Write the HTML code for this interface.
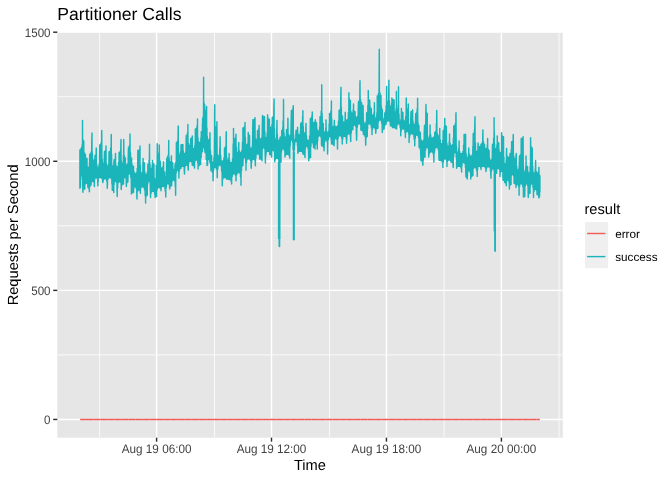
<!DOCTYPE html>
<html lang="en"><head><meta charset="utf-8"><title>Partitioner Calls</title>
<style>
html,body{margin:0;padding:0;background:#fff;}
body{width:672px;height:480px;overflow:hidden;}
svg{display:block;will-change:transform;transform:translateZ(0);}
text{font-family:"Liberation Sans",Arial,Helvetica,sans-serif;text-rendering:geometricPrecision;}
.t{font-size:17.6px;fill:#000;}
.at{font-size:14.67px;fill:#000;}
.ax{font-size:11.73px;fill:#424242;}
.lg{font-size:11.73px;fill:#000;}
</style></head><body>
<svg width="672" height="480" viewBox="0 0 672 480">
<rect width="672" height="480" fill="#ffffff"/>
<rect x="57.3" y="32.2" width="505.50" height="405.50" fill="#e6e6e6"/>
<clipPath id="pc"><rect x="57.3" y="32.2" width="505.50" height="405.50"/></clipPath>
<g clip-path="url(#pc)">
<g stroke="#ffffff" stroke-width="0.8">
<line x1="57.3" x2="562.8" y1="354.91" y2="354.91"/>
<line x1="57.3" x2="562.8" y1="225.82" y2="225.82"/>
<line x1="57.3" x2="562.8" y1="96.74" y2="96.74"/>
<line x1="99.65" x2="99.65" y1="32.2" y2="437.7"/>
<line x1="214.5" x2="214.5" y1="32.2" y2="437.7"/>
<line x1="329.55" x2="329.55" y1="32.2" y2="437.7"/>
<line x1="444.1" x2="444.1" y1="32.2" y2="437.7"/>
<line x1="559.0" x2="559.0" y1="32.2" y2="437.7"/>
</g>
<g stroke="#ffffff" stroke-width="1.42">
<line x1="57.3" x2="562.8" y1="419.45" y2="419.45"/>
<line x1="57.3" x2="562.8" y1="290.37" y2="290.37"/>
<line x1="57.3" x2="562.8" y1="161.28" y2="161.28"/>
<line x1="57.3" x2="562.8" y1="32.20" y2="32.20"/>
<line x1="156.6" x2="156.6" y1="32.2" y2="437.7"/>
<line x1="271.5" x2="271.5" y1="32.2" y2="437.7"/>
<line x1="386.45" x2="386.45" y1="32.2" y2="437.7"/>
<line x1="501.4" x2="501.4" y1="32.2" y2="437.7"/>
</g>
<path d="M79.90 149.95 L79.90 188.15 L79.90 149.95 L80.22 187.09 L80.50 187.05 L80.54 149.45 L80.60 149.20 L80.86 176.25 L81.18 149.05 L81.25 175.65 L81.50 148.11 L81.60 147.45 L81.82 175.79 L82.14 144.74 L82.46 179.77 L82.50 120.45 L82.78 187.50 L82.90 192.30 L83.10 139.96 L83.42 189.71 L83.74 141.05 L83.75 141.05 L84.06 188.99 L84.38 152.69 L84.70 188.95 L84.75 188.95 L85.02 154.18 L85.34 183.76 L85.40 154.20 L85.66 183.24 L85.98 157.89 L86.25 183.15 L86.30 158.35 L86.62 183.16 L86.94 158.45 L87.00 158.45 L87.26 183.63 L87.58 166.91 L87.90 187.55 L87.90 187.55 L88.22 167.45 L88.25 167.45 L88.54 187.64 L88.86 167.22 L89.18 189.63 L89.40 191.80 L89.50 161.62 L89.75 154.20 L89.82 186.84 L90.14 154.19 L90.46 185.20 L90.78 153.57 L91.00 185.15 L91.10 152.07 L91.42 182.24 L91.74 141.97 L92.00 132.95 L92.06 181.28 L92.38 153.06 L92.60 181.25 L92.70 158.83 L93.02 181.26 L93.34 160.45 L93.50 160.45 L93.66 181.73 L93.98 160.42 L94.30 185.27 L94.40 186.45 L94.62 159.11 L94.94 178.90 L95.00 155.45 L95.26 177.78 L95.58 155.21 L95.90 177.50 L96.00 177.50 L96.22 148.73 L96.25 147.95 L96.54 177.53 L96.86 165.01 L97.18 178.47 L97.50 167.42 L97.82 184.34 L97.90 185.80 L97.90 167.45 L98.14 181.94 L98.46 167.35 L98.78 177.95 L99.10 164.23 L99.42 177.50 L99.74 145.39 L99.75 177.50 L99.75 144.85 L100.06 177.50 L100.38 144.77 L100.70 177.52 L101.02 142.98 L101.34 177.73 L101.66 133.14 L101.75 130.45 L101.98 178.57 L102.30 159.22 L102.62 180.82 L102.90 182.55 L102.94 163.42 L103.25 163.45 L103.26 180.64 L103.58 163.42 L103.90 179.13 L104.22 159.62 L104.50 151.45 L104.54 178.78 L104.86 151.44 L105.18 178.75 L105.40 178.75 L105.50 150.58 L105.82 178.76 L106.00 146.05 L106.14 178.90 L106.46 163.64 L106.78 181.30 L107.10 166.20 L107.25 188.30 L107.25 166.20 L107.42 185.37 L107.74 166.16 L108.06 179.35 L108.38 164.62 L108.70 177.72 L109.02 154.32 L109.10 151.70 L109.34 177.50 L109.66 151.66 L109.75 177.50 L109.98 151.39 L110.30 177.51 L110.62 148.08 L110.94 177.95 L111.25 134.45 L111.26 178.81 L111.58 154.57 L111.90 183.92 L112.22 165.61 L112.25 190.15 L112.54 166.17 L112.86 190.19 L112.90 166.20 L113.18 190.43 L113.50 165.92 L113.75 192.55 L113.82 164.28 L114.10 159.85 L114.14 184.61 L114.46 159.84 L114.78 181.39 L115.10 158.46 L115.40 181.25 L115.42 155.02 L115.50 153.55 L115.74 181.26 L116.06 165.23 L116.38 182.12 L116.70 166.84 L117.00 166.85 L117.02 189.61 L117.25 196.45 L117.34 166.85 L117.66 187.70 L117.98 166.38 L118.30 182.62 L118.62 162.34 L118.94 181.78 L119.10 152.35 L119.26 181.75 L119.50 181.75 L119.58 152.32 L119.90 181.76 L120.22 151.15 L120.54 182.50 L120.86 143.21 L121.00 139.45 L121.18 188.24 L121.25 189.55 L121.50 161.04 L121.82 185.45 L122.14 163.45 L122.25 163.45 L122.46 184.12 L122.78 163.23 L123.10 183.95 L123.42 155.60 L123.50 183.95 L123.74 140.16 L123.75 139.45 L124.06 177.94 L124.38 155.83 L124.70 177.50 L124.75 177.50 L125.02 157.93 L125.34 177.59 L125.40 157.95 L125.66 178.11 L125.98 164.59 L126.30 184.26 L126.40 186.45 L126.60 164.95 L126.62 184.21 L126.94 164.94 L127.26 182.15 L127.58 164.06 L127.90 182.05 L127.90 182.05 L128.22 156.36 L128.50 147.35 L128.54 174.43 L128.86 147.33 L129.18 173.75 L129.40 173.75 L129.50 145.19 L129.82 173.77 L130.00 133.95 L130.14 173.98 L130.46 152.73 L130.78 177.55 L131.10 157.82 L131.40 193.95 L131.42 157.95 L131.60 157.95 L131.74 193.18 L132.06 164.01 L132.38 192.63 L132.70 166.28 L133.02 192.55 L133.34 166.45 L133.50 192.55 L133.50 166.45 L133.66 189.88 L133.98 171.56 L134.30 186.81 L134.62 173.32 L134.75 186.75 L134.94 173.44 L135.26 186.77 L135.40 173.45 L135.58 186.89 L135.90 173.43 L136.22 188.55 L136.54 172.78 L136.86 195.89 L137.00 198.95 L137.18 168.46 L137.50 191.44 L137.82 153.58 L137.90 150.45 L138.14 190.01 L138.46 150.44 L138.50 190.00 L138.78 150.36 L139.10 190.02 L139.42 149.42 L139.74 190.48 L140.00 146.05 L140.06 191.36 L140.38 165.36 L140.40 193.30 L140.70 171.39 L141.02 187.79 L141.34 173.44 L141.60 173.45 L141.66 186.79 L141.98 173.42 L142.25 186.75 L142.30 172.96 L142.62 186.75 L142.94 164.42 L143.10 158.45 L143.26 186.82 L143.58 162.38 L143.90 187.42 L144.22 162.95 L144.40 162.95 L144.54 189.69 L144.86 171.95 L145.18 195.67 L145.50 174.39 L145.60 203.05 L145.82 174.45 L146.00 174.45 L146.14 196.48 L146.46 174.43 L146.78 195.18 L147.10 173.57 L147.25 195.15 L147.42 171.69 L147.74 184.10 L147.90 164.20 L148.06 181.92 L148.38 164.11 L148.70 181.25 L148.90 181.25 L149.02 160.18 L149.34 181.29 L149.50 144.20 L149.66 181.69 L149.98 164.17 L150.30 188.05 L150.60 197.55 L150.62 168.40 L150.94 193.84 L151.00 168.45 L151.26 192.17 L151.58 168.34 L151.90 191.29 L152.22 165.29 L152.50 191.25 L152.50 160.45 L152.54 191.25 L152.86 163.22 L153.18 191.27 L153.50 164.19 L153.82 191.55 L153.90 164.20 L154.14 192.04 L154.46 178.24 L154.78 194.74 L155.10 179.45 L155.10 197.55 L155.20 179.45 L155.42 196.82 L155.74 179.06 L156.06 196.46 L156.38 166.47 L156.40 165.45 L156.60 196.45 L156.70 165.25 L157.02 190.41 L157.25 143.75 L157.34 188.47 L157.66 153.03 L157.98 187.53 L158.30 154.15 L158.30 154.15 L158.50 187.50 L158.62 154.10 L158.94 187.50 L159.26 146.58 L159.30 145.05 L159.58 187.58 L159.90 160.99 L160.22 188.11 L160.30 161.25 L160.54 188.82 L160.86 167.40 L161.00 190.80 L161.18 168.12 L161.50 187.40 L161.80 168.25 L161.82 186.61 L162.14 168.25 L162.46 186.26 L162.78 167.70 L162.90 186.25 L163.10 166.29 L163.42 186.26 L163.50 161.70 L163.74 186.29 L164.06 171.43 L164.38 186.82 L164.70 172.15 L164.75 172.15 L165.02 189.10 L165.30 177.45 L165.34 191.62 L165.66 177.41 L165.75 197.05 L165.98 176.72 L166.30 187.27 L166.62 163.10 L166.70 158.75 L166.94 184.10 L167.26 158.34 L167.50 156.70 L167.58 183.75 L167.90 156.58 L167.90 183.75 L168.22 155.07 L168.54 183.79 L168.70 140.45 L168.86 184.02 L169.18 157.91 L169.50 186.46 L169.75 188.95 L169.82 161.61 L170.14 186.89 L170.20 161.65 L170.46 186.16 L170.78 161.43 L171.10 185.81 L171.40 155.85 L171.42 185.80 L171.60 185.80 L171.74 161.14 L172.06 181.67 L172.38 162.94 L172.70 180.12 L172.70 162.95 L173.02 180.01 L173.34 169.24 L173.50 180.00 L173.66 169.45 L173.90 169.45 L173.98 180.02 L174.30 169.42 L174.62 180.90 L174.94 167.36 L175.20 163.75 L175.26 186.84 L175.58 163.63 L175.60 195.15 L175.90 161.87 L176.22 173.02 L176.40 142.45 L176.54 170.57 L176.86 142.42 L177.18 170.00 L177.25 170.00 L177.50 140.87 L177.82 170.07 L178.14 130.00 L178.25 126.05 L178.46 171.99 L178.78 152.54 L178.90 178.05 L179.10 154.78 L179.42 171.01 L179.50 154.95 L179.74 169.28 L180.06 154.83 L180.38 168.34 L180.70 151.25 L181.00 168.30 L181.00 144.85 L181.02 168.20 L181.34 144.85 L181.66 166.55 L181.98 144.83 L182.30 166.26 L182.62 144.65 L182.90 166.25 L182.90 144.45 L182.94 166.25 L183.26 150.76 L183.58 166.41 L183.90 153.59 L184.22 169.49 L184.50 173.95 L184.50 153.70 L184.54 173.21 L184.86 153.69 L185.18 166.54 L185.50 152.23 L185.82 165.10 L186.14 140.07 L186.25 135.45 L186.46 165.00 L186.60 165.00 L186.78 135.38 L187.10 165.02 L187.42 133.11 L187.74 165.98 L187.90 124.45 L188.06 167.97 L188.25 170.15 L188.38 143.34 L188.70 163.59 L189.02 145.45 L189.10 145.45 L189.34 161.36 L189.66 145.40 L189.98 161.25 L190.00 161.25 L190.30 143.78 L190.62 161.26 L190.75 138.45 L190.94 161.33 L191.26 138.43 L191.58 162.04 L191.90 137.72 L192.22 164.92 L192.25 165.15 L192.25 136.05 L192.54 165.15 L192.86 148.08 L193.18 165.20 L193.50 148.70 L193.50 148.70 L193.82 165.72 L194.14 148.55 L194.46 167.83 L194.50 168.05 L194.78 145.36 L195.10 161.22 L195.40 128.95 L195.42 160.28 L195.74 128.95 L196.06 160.00 L196.25 160.00 L196.38 128.63 L196.70 160.02 L197.02 125.84 L197.34 160.83 L197.50 118.95 L197.66 162.64 L197.98 137.73 L198.10 168.95 L198.30 141.41 L198.62 165.81 L198.94 142.45 L199.10 142.45 L199.26 165.55 L199.30 165.55 L199.58 142.44 L199.90 164.61 L200.22 141.88 L200.54 164.55 L200.60 164.55 L200.86 138.08 L201.18 157.55 L201.20 157.55 L201.25 131.70 L201.50 153.39 L201.82 131.43 L202.14 151.57 L202.46 123.60 L202.50 151.55 L202.60 118.45 L202.78 148.69 L203.10 116.62 L203.42 147.27 L203.60 77.15 L203.74 147.25 L203.80 147.25 L204.06 102.74 L204.38 147.45 L204.60 104.45 L204.70 148.70 L205.00 152.55 L205.02 110.96 L205.34 152.57 L205.40 111.20 L205.66 153.03 L205.98 111.02 L206.20 159.55 L206.30 109.90 L206.60 106.45 L206.62 159.88 L206.94 128.09 L207.00 165.55 L207.26 136.59 L207.58 165.05 L207.60 165.05 L207.90 139.92 L208.22 159.62 L208.25 139.95 L208.54 159.55 L208.60 159.55 L208.86 139.89 L209.18 155.75 L209.20 155.75 L209.50 138.35 L209.82 159.69 L209.90 162.55 L210.00 132.70 L210.14 162.56 L210.46 150.50 L210.78 165.57 L211.00 170.80 L211.10 155.33 L211.42 170.81 L211.60 155.45 L211.74 170.89 L212.06 161.47 L212.38 172.31 L212.70 162.45 L212.90 162.45 L213.02 179.20 L213.10 180.80 L213.34 162.36 L213.66 170.26 L213.98 157.32 L214.30 167.65 L214.62 120.81 L214.75 104.65 L214.94 167.50 L215.00 167.50 L215.26 126.53 L215.58 167.52 L215.75 127.45 L215.90 167.66 L216.22 127.35 L216.54 169.34 L216.86 122.55 L216.90 121.70 L217.18 176.30 L217.25 177.65 L217.50 154.68 L217.82 168.95 L218.10 156.20 L218.14 166.75 L218.46 156.19 L218.78 165.18 L219.10 155.34 L219.42 165.00 L219.74 148.22 L219.75 165.00 L220.06 138.39 L220.10 136.70 L220.38 165.04 L220.70 155.58 L221.02 165.99 L221.34 160.69 L221.66 171.19 L221.98 161.20 L222.25 185.80 L222.25 161.20 L222.30 185.00 L222.62 161.20 L222.94 179.10 L223.26 160.84 L223.58 177.65 L223.90 157.92 L224.22 177.50 L224.50 177.50 L224.50 147.95 L224.54 177.50 L224.86 147.94 L225.18 177.51 L225.50 146.64 L225.82 177.68 L226.14 135.82 L226.25 131.70 L226.46 178.56 L226.60 178.95 L226.78 157.59 L227.10 178.95 L227.42 159.95 L227.50 159.95 L227.74 178.97 L228.06 159.89 L228.38 179.08 L228.70 158.17 L229.02 179.47 L229.10 179.55 L229.10 153.45 L229.34 179.55 L229.66 160.58 L229.98 179.59 L230.30 162.35 L230.62 180.02 L230.94 162.45 L231.00 162.45 L231.26 181.83 L231.58 162.40 L231.60 183.95 L231.90 162.11 L232.22 176.58 L232.54 158.61 L232.86 174.18 L233.18 144.09 L233.50 173.77 L233.50 128.45 L233.82 173.75 L234.10 173.75 L234.14 138.29 L234.46 173.75 L234.75 138.70 L234.78 173.82 L235.10 138.69 L235.42 175.12 L235.74 137.12 L236.00 180.80 L236.00 134.20 L236.06 180.02 L236.38 147.55 L236.70 174.71 L237.02 152.34 L237.34 172.91 L237.50 152.45 L237.66 172.63 L237.98 152.32 L238.30 172.50 L238.62 146.35 L238.75 172.50 L238.75 142.45 L238.94 172.50 L239.26 150.56 L239.58 172.64 L239.90 152.40 L240.22 174.36 L240.40 152.45 L240.54 177.02 L240.86 152.44 L241.00 185.15 L241.18 152.32 L241.50 170.70 L241.82 150.53 L242.14 166.11 L242.46 142.20 L242.78 165.80 L242.90 165.80 L242.90 127.95 L243.10 161.15 L243.42 127.94 L243.74 157.54 L244.06 127.57 L244.10 157.50 L244.38 126.81 L244.70 157.57 L245.00 122.45 L245.02 157.98 L245.34 137.27 L245.66 162.71 L245.98 144.63 L246.00 170.15 L246.30 144.94 L246.60 144.95 L246.62 161.91 L246.94 144.94 L247.26 159.24 L247.58 143.75 L247.90 158.77 L248.22 133.44 L248.25 132.45 L248.50 158.75 L248.54 134.54 L248.86 158.75 L249.18 135.44 L249.50 158.85 L249.50 135.45 L249.82 159.10 L250.14 147.62 L250.46 160.83 L250.78 148.70 L251.00 148.70 L251.10 166.17 L251.25 168.30 L251.42 148.67 L251.74 162.31 L252.06 146.61 L252.38 159.74 L252.70 131.21 L252.90 119.85 L253.02 159.36 L253.34 119.85 L253.50 159.35 L253.66 119.83 L253.98 159.36 L254.30 119.50 L254.62 159.95 L254.94 117.96 L255.00 117.70 L255.26 163.92 L255.40 165.80 L255.58 138.61 L255.90 158.16 L256.22 139.95 L256.25 139.95 L256.54 154.53 L256.86 139.57 L257.18 153.79 L257.50 130.45 L257.50 130.45 L257.82 153.75 L257.90 153.75 L258.14 130.37 L258.46 153.77 L258.78 128.62 L259.10 154.49 L259.10 125.45 L259.42 155.90 L259.74 138.30 L259.75 158.95 L260.06 139.31 L260.38 158.96 L260.60 139.45 L260.70 158.99 L261.02 139.42 L261.34 159.34 L261.66 137.71 L261.98 160.73 L262.00 160.80 L262.30 124.90 L262.50 115.45 L262.62 148.71 L262.94 116.29 L263.26 147.50 L263.50 147.50 L263.58 116.66 L263.90 147.51 L264.22 116.70 L264.50 116.70 L264.54 148.53 L264.86 131.41 L265.18 156.44 L265.40 163.05 L265.50 137.30 L265.82 156.41 L266.00 137.45 L266.14 153.68 L266.46 137.37 L266.78 151.57 L267.10 133.26 L267.42 151.26 L267.60 114.85 L267.74 151.25 L267.90 151.25 L268.06 118.05 L268.38 151.26 L268.70 119.14 L269.02 151.59 L269.34 119.20 L269.40 119.20 L269.66 153.89 L269.75 154.55 L269.98 126.79 L270.30 154.56 L270.62 127.45 L270.75 127.45 L270.94 154.89 L271.26 127.37 L271.58 156.93 L271.60 157.05 L271.90 124.42 L272.22 150.64 L272.25 117.45 L272.54 150.08 L272.86 117.32 L273.10 150.00 L273.18 116.61 L273.50 150.02 L273.82 108.61 L274.10 98.95 L274.14 151.48 L274.46 128.82 L274.75 161.80 L274.78 137.42 L275.10 160.00 L275.42 139.45 L275.50 139.45 L275.74 158.53 L276.06 139.22 L276.38 158.18 L276.70 132.49 L277.00 120.45 L277.02 158.15 L277.25 158.15 L277.34 134.16 L277.66 158.16 L277.98 140.28 L278.30 158.60 L278.50 140.45 L278.60 159.55 L278.62 140.45 L278.94 173.43 L279.10 238.30 L279.26 140.31 L279.45 246.45 L279.58 139.77 L279.90 158.75 L279.90 158.75 L280.00 137.45 L280.22 158.76 L280.54 137.41 L280.86 160.54 L281.00 162.05 L281.18 136.26 L281.50 152.12 L281.75 130.45 L281.82 149.80 L282.14 130.41 L282.46 148.77 L282.78 127.60 L282.90 148.75 L283.10 120.81 L283.42 148.77 L283.50 99.45 L283.74 148.88 L284.06 132.81 L284.38 150.47 L284.70 137.42 L285.00 157.05 L285.00 137.45 L285.02 156.94 L285.34 137.44 L285.66 154.92 L285.98 136.33 L286.30 154.41 L286.50 129.85 L286.62 154.36 L286.94 129.79 L287.25 154.35 L287.26 129.10 L287.58 154.35 L287.90 118.20 L287.90 118.20 L288.22 154.41 L288.54 134.39 L288.86 154.90 L289.18 136.19 L289.50 156.81 L289.50 136.20 L289.75 158.30 L289.82 136.19 L290.14 146.31 L290.46 135.01 L290.78 140.47 L291.10 124.32 L291.40 110.45 L291.42 140.00 L291.60 140.00 L291.74 110.45 L292.06 140.05 L292.38 110.18 L292.70 142.37 L293.02 107.84 L293.10 149.55 L293.25 105.70 L293.34 150.57 L293.66 134.64 L293.75 239.55 L293.98 139.78 L294.30 149.57 L294.40 149.55 L294.50 140.45 L294.62 144.98 L294.94 140.41 L295.26 141.34 L295.58 138.17 L295.75 141.25 L295.90 133.12 L296.00 130.45 L296.22 141.26 L296.54 130.43 L296.86 141.87 L297.18 129.66 L297.50 146.02 L297.60 127.35 L297.82 151.41 L297.90 153.30 L298.14 133.93 L298.46 151.90 L298.78 134.94 L299.10 151.36 L299.10 134.95 L299.42 151.28 L299.74 134.78 L300.06 151.25 L300.38 131.20 L300.40 151.25 L300.70 124.72 L300.75 123.20 L301.02 151.26 L301.34 123.16 L301.66 151.37 L301.98 122.19 L302.30 152.04 L302.62 116.53 L302.90 153.95 L302.90 110.70 L302.94 153.95 L303.26 126.55 L303.58 153.97 L303.90 132.89 L304.22 154.40 L304.40 133.05 L304.54 155.13 L304.86 133.01 L305.00 157.55 L305.18 132.67 L305.50 148.34 L305.82 127.44 L306.00 123.45 L306.14 146.29 L306.46 135.57 L306.60 146.25 L306.78 138.87 L307.10 146.27 L307.42 140.42 L307.74 147.09 L307.90 140.45 L308.06 148.80 L308.38 140.44 L308.70 159.34 L308.75 160.80 L309.02 139.86 L309.34 158.13 L309.66 135.92 L309.98 157.57 L310.30 122.14 L310.40 118.45 L310.60 157.55 L310.62 118.45 L310.94 146.80 L311.26 118.24 L311.58 142.57 L311.90 115.92 L312.00 142.50 L312.22 112.41 L312.25 111.95 L312.54 142.55 L312.86 121.99 L313.18 144.22 L313.50 123.05 L313.50 147.55 L313.75 123.05 L313.82 147.55 L314.14 123.05 L314.46 147.74 L314.78 122.67 L315.00 148.95 L315.10 121.75 L315.40 119.85 L315.42 145.07 L315.74 122.26 L316.06 143.79 L316.38 122.95 L316.60 143.75 L316.60 122.95 L316.70 143.75 L317.02 129.00 L317.25 148.95 L317.34 130.63 L317.66 141.03 L317.98 131.20 L318.25 131.20 L318.30 136.44 L318.62 131.19 L318.94 135.68 L319.26 129.98 L319.50 135.65 L319.58 126.98 L319.90 135.66 L320.00 116.70 L320.22 135.73 L320.54 116.54 L320.86 137.09 L321.18 111.29 L321.50 143.80 L321.60 145.80 L321.75 84.85 L321.82 145.80 L322.14 113.49 L322.46 145.84 L322.78 123.24 L323.10 146.30 L323.25 123.45 L323.42 147.00 L323.74 131.49 L324.06 150.45 L324.10 150.80 L324.38 132.45 L324.50 132.45 L324.70 141.96 L325.02 132.34 L325.34 140.09 L325.66 128.49 L325.98 140.00 L326.00 140.00 L326.00 119.85 L326.30 140.01 L326.62 131.31 L326.94 141.27 L327.26 132.45 L327.50 132.45 L327.58 153.18 L327.60 153.95 L327.90 132.44 L328.22 139.66 L328.54 131.45 L328.86 136.88 L329.18 123.78 L329.50 136.75 L329.50 136.75 L329.50 113.45 L329.82 136.75 L330.14 113.36 L330.46 136.96 L330.78 111.35 L331.10 138.87 L331.40 101.05 L331.42 141.56 L331.60 143.95 L331.74 118.74 L332.06 143.95 L332.38 126.63 L332.70 144.00 L332.90 126.85 L333.02 144.10 L333.34 126.82 L333.66 144.72 L333.98 125.39 L334.10 145.80 L334.30 122.16 L334.40 120.45 L334.62 139.54 L334.94 125.85 L335.26 138.18 L335.58 126.83 L335.75 138.15 L335.90 126.85 L336.00 126.85 L336.22 138.18 L336.54 126.84 L336.86 139.54 L337.18 126.64 L337.50 148.95 L337.50 148.95 L337.82 125.36 L338.14 138.60 L338.46 121.06 L338.78 135.95 L339.10 110.45 L339.10 110.45 L339.42 135.65 L339.74 110.28 L339.75 135.65 L340.06 109.38 L340.38 135.67 L340.70 99.79 L341.00 87.35 L341.02 136.04 L341.34 107.02 L341.66 138.12 L341.98 115.81 L342.25 143.95 L342.30 116.05 L342.50 116.05 L342.62 139.68 L342.94 121.54 L343.26 136.78 L343.58 122.45 L343.75 122.45 L343.90 136.27 L344.22 122.40 L344.50 136.25 L344.54 121.89 L344.86 136.25 L345.18 114.30 L345.25 112.35 L345.50 136.50 L345.82 119.51 L346.14 138.57 L346.46 120.45 L346.60 143.30 L346.75 120.45 L346.78 140.19 L347.10 120.44 L347.42 134.85 L347.74 119.60 L348.06 133.81 L348.38 112.47 L348.70 133.75 L348.75 133.75 L348.90 92.70 L349.02 133.75 L349.34 98.83 L349.66 133.97 L349.98 100.42 L350.30 136.20 L350.40 100.45 L350.62 139.44 L350.75 141.45 L350.94 111.36 L351.26 133.07 L351.58 113.04 L351.90 129.93 L351.90 113.05 L352.22 129.62 L352.54 112.90 L352.86 129.55 L352.90 129.55 L353.18 109.72 L353.50 125.55 L353.50 103.95 L353.82 125.10 L354.14 111.07 L354.46 125.00 L354.50 125.00 L354.78 111.70 L355.00 111.70 L355.10 125.05 L355.42 115.99 L355.74 126.42 L356.06 117.41 L356.38 134.21 L356.60 140.15 L356.60 117.45 L356.70 137.40 L357.02 117.43 L357.34 127.13 L357.66 116.31 L357.98 124.19 L358.30 107.90 L358.50 101.70 L358.62 123.76 L358.94 101.62 L359.10 123.75 L359.26 100.71 L359.58 123.76 L359.90 86.30 L360.00 80.70 L360.22 124.34 L360.54 99.44 L360.86 128.29 L361.00 130.15 L361.18 102.33 L361.50 130.15 L361.50 102.35 L361.82 130.18 L362.14 105.14 L362.46 130.54 L362.78 105.45 L363.10 132.16 L363.10 105.45 L363.42 133.95 L363.50 134.55 L363.74 121.70 L364.06 134.57 L364.38 123.68 L364.70 135.18 L364.75 123.70 L365.02 136.36 L365.34 123.64 L365.66 143.37 L365.75 145.15 L365.98 121.99 L366.30 137.56 L366.60 112.95 L366.62 136.63 L366.94 112.93 L367.25 136.45 L367.26 112.59 L367.58 129.00 L367.90 105.25 L368.22 124.20 L368.25 90.45 L368.54 123.81 L368.86 99.50 L369.10 123.75 L369.18 100.32 L369.50 123.75 L369.75 100.45 L369.82 123.77 L370.14 106.39 L370.46 124.11 L370.78 108.41 L371.10 125.78 L371.25 108.45 L371.42 127.71 L371.74 114.02 L372.00 134.55 L372.06 115.11 L372.38 129.84 L372.70 115.45 L372.90 115.45 L373.02 127.64 L373.34 115.40 L373.66 127.50 L373.75 127.50 L373.98 112.54 L374.30 127.52 L374.40 102.70 L374.62 127.64 L374.94 117.09 L375.26 129.14 L375.58 118.70 L375.75 133.30 L375.75 118.70 L375.90 131.91 L376.22 118.58 L376.54 128.94 L376.86 112.86 L377.18 128.34 L377.25 96.05 L377.50 128.30 L377.82 95.97 L377.90 128.30 L378.14 95.49 L378.46 122.06 L378.50 93.45 L378.78 120.72 L379.10 81.31 L379.30 49.15 L379.42 120.03 L379.74 92.23 L380.00 120.00 L380.06 93.45 L380.10 93.45 L380.38 120.00 L380.70 95.44 L381.00 95.45 L381.02 120.36 L381.34 105.90 L381.66 123.19 L381.98 109.19 L382.25 132.55 L382.25 109.20 L382.30 132.13 L382.62 117.34 L382.94 129.39 L383.26 119.44 L383.50 119.45 L383.58 128.96 L383.90 119.41 L384.10 128.95 L384.22 118.91 L384.54 125.89 L384.75 112.95 L384.86 124.99 L385.18 112.91 L385.50 124.56 L385.82 110.69 L386.00 124.55 L386.14 105.63 L386.46 122.21 L386.60 86.45 L386.78 121.37 L387.10 101.17 L387.42 120.74 L387.60 101.85 L387.74 120.67 L388.06 101.65 L388.38 120.65 L388.50 120.65 L388.70 91.64 L388.90 80.20 L389.02 120.67 L389.34 100.75 L389.66 121.21 L389.98 106.12 L390.30 124.69 L390.40 125.80 L390.40 106.20 L390.62 125.80 L390.94 106.12 L391.26 125.83 L391.58 103.40 L391.90 126.19 L391.90 97.95 L392.22 126.72 L392.50 127.55 L392.54 99.45 L392.86 127.55 L393.18 99.81 L393.50 127.56 L393.82 99.85 L394.10 99.85 L394.14 127.61 L394.46 111.14 L394.78 127.80 L395.10 113.70 L395.25 113.70 L395.40 128.30 L395.42 113.70 L395.74 128.30 L396.06 109.10 L396.38 128.56 L396.40 91.45 L396.60 128.95 L396.70 105.54 L397.02 125.44 L397.34 109.95 L397.50 109.95 L397.66 123.88 L397.98 109.09 L398.30 123.75 L398.50 123.75 L398.50 86.70 L398.62 123.75 L398.94 113.97 L399.26 123.84 L399.58 121.09 L399.90 125.17 L400.00 121.20 L400.22 127.35 L400.54 121.02 L400.75 135.80 L400.86 119.78 L401.18 131.33 L401.40 108.45 L401.50 129.77 L401.82 111.46 L402.14 128.82 L402.46 112.33 L402.78 128.75 L402.90 128.75 L402.90 112.35 L403.10 128.75 L403.42 120.21 L403.74 128.82 L404.06 121.20 L404.25 121.20 L404.38 129.58 L404.70 121.17 L405.02 132.94 L405.34 119.69 L405.40 137.55 L405.66 116.38 L405.98 132.41 L406.25 97.95 L406.30 131.56 L406.62 108.45 L406.94 131.25 L407.25 131.25 L407.25 109.95 L407.26 131.25 L407.58 109.91 L407.90 131.35 L408.22 104.72 L408.25 103.95 L408.54 133.48 L408.86 123.92 L409.10 142.55 L409.18 124.90 L409.50 137.77 L409.50 124.95 L409.82 135.66 L410.14 124.66 L410.46 134.01 L410.78 118.46 L411.00 111.70 L411.10 133.76 L411.42 111.70 L411.60 133.75 L411.74 111.64 L412.06 133.75 L412.38 110.75 L412.60 109.85 L412.70 133.86 L413.02 121.12 L413.34 134.58 L413.66 124.39 L413.98 137.16 L414.10 124.45 L414.30 139.77 L414.62 124.39 L414.75 145.80 L414.94 123.92 L415.26 138.40 L415.58 117.71 L415.75 113.45 L415.90 135.43 L416.22 113.42 L416.54 135.01 L416.86 111.93 L417.00 135.00 L417.18 108.71 L417.50 135.02 L417.60 98.35 L417.82 135.18 L418.14 123.03 L418.46 137.44 L418.78 125.45 L418.90 125.45 L419.10 147.55 L419.10 147.55 L419.42 131.42 L419.74 147.65 L420.06 132.44 L420.38 149.79 L420.40 132.45 L420.70 153.66 L421.00 160.80 L421.02 139.39 L421.34 160.80 L421.66 141.06 L421.98 161.02 L422.30 141.20 L422.50 141.20 L422.62 162.92 L422.90 165.15 L422.94 141.18 L423.26 160.53 L423.58 140.22 L423.90 157.49 L424.22 133.21 L424.50 125.45 L424.54 157.06 L424.86 125.42 L425.00 157.05 L425.18 124.85 L425.50 150.58 L425.82 113.64 L426.00 104.45 L426.14 147.90 L426.46 112.31 L426.78 147.51 L427.10 113.45 L427.25 147.50 L427.25 113.45 L427.42 147.50 L427.74 136.62 L428.06 148.10 L428.38 138.70 L428.40 138.70 L428.70 155.70 L428.75 157.05 L429.02 138.55 L429.34 153.62 L429.66 135.15 L429.98 152.17 L430.10 125.05 L430.30 151.90 L430.62 134.31 L430.94 151.76 L431.26 137.65 L431.58 151.75 L431.60 151.75 L431.90 138.05 L432.22 151.78 L432.25 138.05 L432.54 151.93 L432.86 138.04 L433.18 153.65 L433.50 137.80 L433.82 160.53 L433.90 162.05 L434.14 136.43 L434.46 152.61 L434.75 132.35 L434.78 149.97 L435.10 132.34 L435.42 147.85 L435.74 131.42 L436.06 147.51 L436.38 123.63 L436.60 147.50 L436.70 112.81 L436.75 110.45 L437.02 147.50 L437.34 133.48 L437.66 147.77 L437.98 136.19 L438.25 136.20 L438.30 149.73 L438.62 136.19 L438.94 156.89 L439.10 160.15 L439.26 134.89 L439.58 160.15 L439.75 128.45 L439.90 160.16 L440.22 139.62 L440.54 160.34 L440.86 143.45 L441.00 160.80 L441.18 143.68 L441.50 160.82 L441.60 143.70 L441.82 160.95 L442.14 143.61 L442.46 162.86 L442.78 140.77 L442.90 167.55 L443.10 135.07 L443.25 130.45 L443.42 161.83 L443.74 130.37 L444.06 159.28 L444.38 127.10 L444.70 158.78 L444.75 118.45 L445.02 158.75 L445.34 125.36 L445.40 158.75 L445.66 126.23 L445.98 158.83 L446.30 126.45 L446.40 126.45 L446.62 161.02 L446.94 143.55 L447.00 166.45 L447.26 145.77 L447.58 161.51 L447.90 146.20 L447.90 146.20 L448.22 160.13 L448.54 146.00 L448.86 160.00 L449.10 160.00 L449.18 141.71 L449.50 160.00 L449.50 133.95 L449.82 160.03 L450.14 143.21 L450.46 160.46 L450.78 145.28 L451.00 162.05 L451.10 145.43 L451.42 162.05 L451.60 145.45 L451.74 162.09 L452.06 145.43 L452.38 162.66 L452.70 144.50 L453.02 165.44 L453.25 167.55 L453.34 137.96 L453.66 157.03 L453.75 126.05 L453.98 153.83 L454.30 126.03 L454.62 152.52 L454.94 125.29 L455.00 152.50 L455.26 123.83 L455.58 152.66 L455.90 115.17 L456.00 112.70 L456.22 157.16 L456.54 146.22 L456.60 168.30 L456.86 151.21 L457.18 166.87 L457.50 152.45 L457.60 152.45 L457.82 166.35 L458.14 152.34 L458.46 166.25 L458.78 148.58 L459.10 166.25 L459.10 166.25 L459.10 141.05 L459.42 166.25 L459.74 151.71 L460.06 166.33 L460.38 153.62 L460.70 167.03 L461.00 153.70 L461.02 168.02 L461.34 153.70 L461.60 172.05 L461.66 153.68 L461.98 166.00 L462.30 153.31 L462.62 162.80 L462.94 151.36 L463.26 162.50 L463.50 162.50 L463.58 145.27 L463.90 162.50 L464.10 134.45 L464.22 162.55 L464.54 134.45 L464.86 163.44 L465.18 134.45 L465.50 167.83 L465.60 134.45 L465.82 172.90 L466.00 177.05 L466.14 153.59 L466.46 177.07 L466.78 157.37 L467.10 178.12 L467.25 178.95 L467.25 157.45 L467.42 176.03 L467.74 157.39 L468.06 171.27 L468.38 154.79 L468.70 170.66 L468.75 147.95 L469.02 170.65 L469.10 170.65 L469.34 154.10 L469.66 170.71 L469.98 155.97 L470.30 172.63 L470.62 156.20 L470.75 178.95 L470.94 156.20 L471.00 156.20 L471.26 176.73 L471.58 156.15 L471.90 175.90 L472.22 154.75 L472.54 175.80 L472.86 146.54 L472.90 175.80 L473.18 136.47 L473.25 133.45 L473.50 168.50 L473.82 133.34 L474.14 167.51 L474.46 130.27 L474.50 167.50 L474.78 124.30 L475.00 116.70 L475.10 167.51 L475.42 142.62 L475.74 167.75 L476.06 151.19 L476.38 169.12 L476.60 151.45 L476.70 170.78 L477.02 151.42 L477.25 176.45 L477.34 151.10 L477.66 169.55 L477.98 145.61 L478.10 142.95 L478.30 166.48 L478.62 146.14 L478.94 166.25 L479.10 166.25 L479.26 146.83 L479.58 166.26 L479.75 146.85 L479.90 166.32 L480.22 146.82 L480.54 167.20 L480.86 145.30 L481.00 169.55 L481.00 144.20 L481.18 168.36 L481.50 144.16 L481.82 166.51 L482.14 142.76 L482.46 166.25 L482.78 133.50 L482.90 166.25 L482.90 129.85 L483.10 166.25 L483.42 141.75 L483.74 166.26 L484.06 144.16 L484.38 166.44 L484.50 144.20 L484.70 166.70 L485.02 148.04 L485.34 168.02 L485.66 148.69 L485.98 171.30 L486.00 171.45 L486.00 148.70 L486.30 169.39 L486.62 148.56 L486.94 167.31 L487.26 145.20 L487.58 166.80 L487.60 138.45 L487.90 166.76 L488.22 149.36 L488.50 166.75 L488.54 150.31 L488.86 166.75 L489.10 150.45 L489.18 166.78 L489.50 157.58 L489.82 167.40 L490.14 160.34 L490.46 170.61 L490.75 160.45 L490.78 174.38 L491.00 178.30 L491.10 160.44 L491.42 171.85 L491.74 159.20 L492.06 168.99 L492.38 148.65 L492.50 144.20 L492.70 168.75 L492.90 168.75 L493.02 144.03 L493.34 168.77 L493.66 137.97 L493.98 169.97 L494.10 117.70 L494.20 171.55 L494.30 132.42 L494.60 230.80 L494.62 144.13 L494.94 234.37 L495.10 251.05 L495.26 148.66 L495.50 170.75 L495.58 148.70 L495.60 148.70 L495.90 170.78 L496.22 148.55 L496.54 172.73 L496.60 173.30 L496.86 144.94 L497.18 168.88 L497.25 136.05 L497.50 168.30 L497.82 142.15 L498.14 168.15 L498.25 168.15 L498.46 142.95 L498.75 142.95 L498.78 168.19 L499.10 149.60 L499.42 169.51 L499.74 152.89 L500.00 176.45 L500.06 153.04 L500.38 172.78 L500.40 153.05 L500.70 171.64 L501.02 152.01 L501.34 171.25 L501.60 171.25 L501.60 132.70 L501.66 171.25 L501.98 135.23 L502.30 171.54 L502.62 136.57 L502.94 176.61 L503.10 180.15 L503.26 136.70 L503.50 136.70 L503.58 180.16 L503.90 157.01 L504.22 180.57 L504.54 163.57 L504.75 182.55 L504.86 163.70 L505.00 163.70 L505.18 182.56 L505.50 163.62 L505.82 183.26 L506.14 160.38 L506.25 185.80 L506.46 153.60 L506.60 148.45 L506.78 181.01 L507.10 155.68 L507.42 180.02 L507.74 157.40 L507.90 180.00 L508.06 157.45 L508.25 157.45 L508.38 180.05 L508.70 157.44 L509.02 182.40 L509.34 156.97 L509.40 188.95 L509.66 155.94 L509.98 185.13 L510.00 153.45 L510.30 184.66 L510.62 153.29 L510.94 184.55 L511.00 184.55 L511.26 149.44 L511.58 175.48 L511.60 141.70 L511.90 174.52 L512.22 141.61 L512.50 174.35 L512.54 141.12 L512.86 174.36 L513.18 135.73 L513.25 134.45 L513.50 175.43 L513.82 155.88 L514.10 183.30 L514.14 158.28 L514.46 183.30 L514.75 158.70 L514.78 183.34 L515.10 158.69 L515.42 184.13 L515.74 157.89 L516.00 187.55 L516.06 155.85 L516.25 153.45 L516.38 185.21 L516.70 166.01 L517.02 184.37 L517.34 169.82 L517.50 184.35 L517.66 169.95 L517.90 169.95 L517.98 184.40 L518.30 169.92 L518.62 186.52 L518.94 167.95 L519.10 195.15 L519.26 163.26 L519.50 156.05 L519.58 186.82 L519.90 156.03 L520.22 183.96 L520.54 154.36 L520.86 183.75 L521.00 183.75 L521.18 141.40 L521.25 138.45 L521.50 183.76 L521.82 138.44 L522.14 184.14 L522.46 138.19 L522.78 186.63 L523.10 136.70 L523.10 136.70 L523.42 195.24 L523.50 197.05 L523.74 170.16 L524.06 196.49 L524.38 172.45 L524.50 172.45 L524.70 196.45 L524.75 196.45 L525.02 172.31 L525.34 185.48 L525.66 167.29 L525.98 183.78 L526.00 156.05 L526.30 183.75 L526.40 183.75 L526.62 165.73 L526.94 183.80 L527.26 166.70 L527.50 166.70 L527.58 185.57 L527.90 171.31 L528.22 196.57 L528.25 197.55 L528.54 172.99 L528.86 193.92 L529.10 173.05 L529.18 193.44 L529.50 172.96 L529.82 193.30 L530.00 193.30 L530.14 166.25 L530.46 185.83 L530.60 137.70 L530.78 184.22 L531.10 145.93 L531.42 183.75 L531.60 183.75 L531.74 147.90 L532.06 183.77 L532.25 147.95 L532.38 184.00 L532.70 165.89 L533.02 187.47 L533.34 172.59 L533.50 197.55 L533.66 173.01 L533.98 191.56 L534.10 173.05 L534.30 190.05 L534.62 172.94 L534.94 189.36 L535.26 169.09 L535.40 189.35 L535.58 161.19 L535.60 160.45 L535.90 189.38 L536.22 171.54 L536.54 190.48 L536.86 173.03 L537.00 194.55 L537.18 173.05 L537.25 173.05 L537.50 194.56 L537.82 173.00 L538.14 194.88 L538.46 171.64 L538.78 197.01 L538.90 197.85 L538.90 167.35 L539.10 197.18 L539.42 175.15 L539.50 197.05 L539.74 175.45 L539.90 192.05 L539.90 175.45" fill="none" stroke="#1ab5bb" stroke-width="1.45" stroke-linejoin="round" stroke-linecap="butt"/>
<g stroke="#1ab5bb" fill="none" stroke-linecap="butt"><path d="M279.15 162 L279.15 239" stroke-width="2.5"/><path d="M279.42 238 L279.42 247" stroke-width="1.5"/><path d="M293.75 152 L293.75 240.2" stroke-width="2.0"/><path d="M494.85 174 L494.85 231.5" stroke-width="2.3"/><path d="M495.1 231 L495.1 251.6" stroke-width="1.5"/></g>
<line x1="80.2" x2="539.8" y1="419.45" y2="419.45" stroke="#f05853" stroke-width="1.5"/>
<line x1="93.1" x2="539.8" y1="419.00" y2="419.00" stroke="#fbd3cf" stroke-opacity="0.95" stroke-width="0.8" stroke-dasharray="0.7 6.33"/>
</g>
<g stroke="#2b2b2b" stroke-width="1.42">
<line x1="53.20" x2="57.3" y1="419.45" y2="419.45"/>
<line x1="53.20" x2="57.3" y1="290.37" y2="290.37"/>
<line x1="53.20" x2="57.3" y1="161.28" y2="161.28"/>
<line x1="53.20" x2="57.3" y1="32.20" y2="32.20"/>
<line x1="156.6" x2="156.6" y1="437.7" y2="441.65"/>
<line x1="271.5" x2="271.5" y1="437.7" y2="441.65"/>
<line x1="386.45" x2="386.45" y1="437.7" y2="441.65"/>
<line x1="501.4" x2="501.4" y1="437.7" y2="441.65"/>
</g>
<text class="ax" transform="translate(50.5,424.40) scale(0.985,1.055)" text-anchor="end">0</text>
<text class="ax" transform="translate(50.5,295.32) scale(0.985,1.055)" text-anchor="end">500</text>
<text class="ax" transform="translate(50.5,166.23) scale(0.985,1.055)" text-anchor="end">1000</text>
<text class="ax" transform="translate(50.5,37.15) scale(0.985,1.055)" text-anchor="end">1500</text>
<text class="ax" transform="translate(156.6,452.95) scale(1,1.055)" text-anchor="middle">Aug 19 06:00</text>
<text class="ax" transform="translate(271.5,452.95) scale(1,1.055)" text-anchor="middle">Aug 19 12:00</text>
<text class="ax" transform="translate(386.45,452.95) scale(1,1.055)" text-anchor="middle">Aug 19 18:00</text>
<text class="ax" transform="translate(501.4,452.95) scale(1,1.055)" text-anchor="middle">Aug 20 00:00</text>
<text class="t" x="57.3" y="19.6">Partitioner Calls</text>
<text class="at" x="309.9" y="469.6" text-anchor="middle">Time</text>
<text class="at" transform="translate(18,234.9) rotate(-90)" text-anchor="middle">Requests per Second</text>
<text class="at" x="584.4" y="213.8">result</text>
<rect x="585.1" y="222.1" width="23.04" height="46.08" fill="#efefef"/>
<line x1="587.1" x2="605.4" y1="233.5" y2="233.5" stroke="#f05d57" stroke-width="1.42"/>
<line x1="587.1" x2="605.4" y1="256.6" y2="256.6" stroke="#1ab5bb" stroke-width="1.42"/>
<text class="lg" x="615.2" y="237.7">error</text>
<text class="lg" x="615.2" y="260.8">success</text>
</svg>
</body></html>
